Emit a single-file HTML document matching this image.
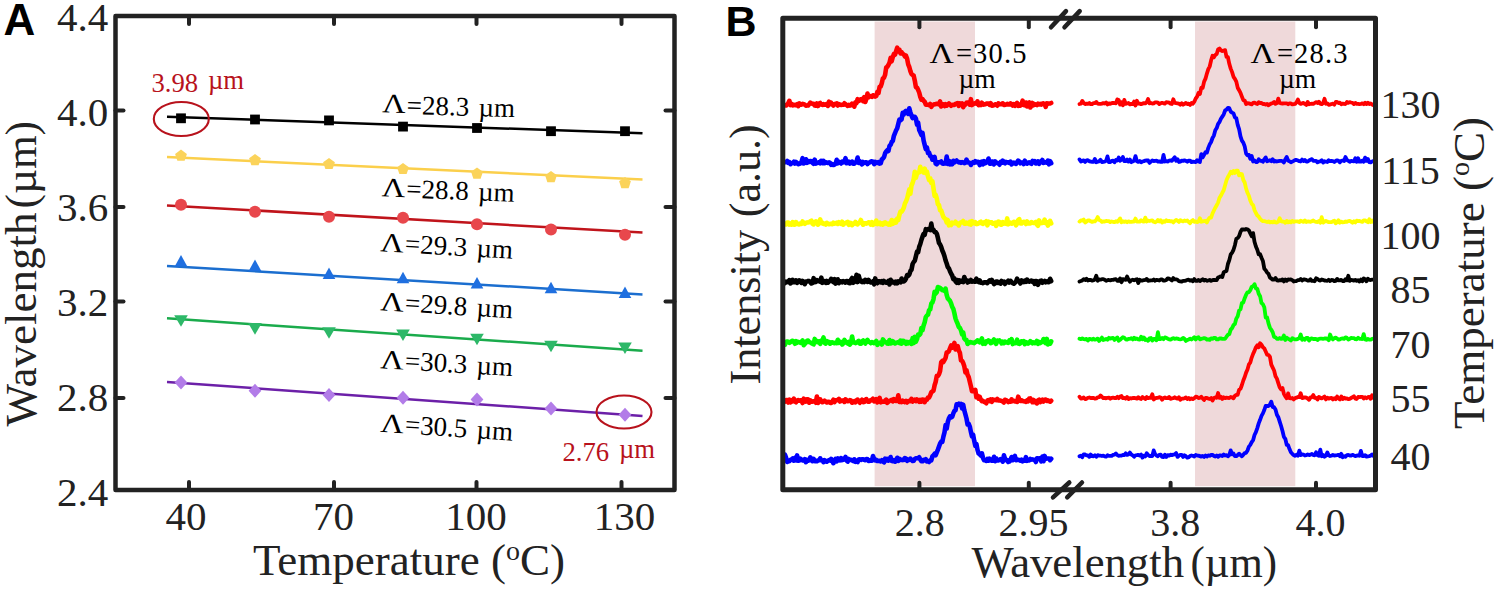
<!DOCTYPE html>
<html><head><meta charset="utf-8"><style>
html,body{margin:0;padding:0;background:#fff;}
svg{display:block;}
text{font-family:"Liberation Serif", serif;}
</style></head><body>
<svg width="1500" height="593" viewBox="0 0 1500 593">
<rect width="1500" height="593" fill="#fff"/>
<rect x="115.5" y="16" width="559.0" height="474" fill="none" stroke="#222" stroke-width="4.5" stroke-linejoin="round"/>
<line x1="189" y1="490" x2="189" y2="482" stroke="#222" stroke-width="4" stroke-linecap="round"/>
<line x1="189" y1="16" x2="189" y2="24" stroke="#222" stroke-width="4" stroke-linecap="round"/>
<line x1="334" y1="490" x2="334" y2="482" stroke="#222" stroke-width="4" stroke-linecap="round"/>
<line x1="334" y1="16" x2="334" y2="24" stroke="#222" stroke-width="4" stroke-linecap="round"/>
<line x1="476.5" y1="490" x2="476.5" y2="482" stroke="#222" stroke-width="4" stroke-linecap="round"/>
<line x1="476.5" y1="16" x2="476.5" y2="24" stroke="#222" stroke-width="4" stroke-linecap="round"/>
<line x1="621.5" y1="490" x2="621.5" y2="482" stroke="#222" stroke-width="4" stroke-linecap="round"/>
<line x1="621.5" y1="16" x2="621.5" y2="24" stroke="#222" stroke-width="4" stroke-linecap="round"/>
<line x1="115.5" y1="110.6" x2="123.5" y2="110.6" stroke="#222" stroke-width="4" stroke-linecap="round"/>
<line x1="674.5" y1="110.6" x2="665.5" y2="110.6" stroke="#222" stroke-width="4" stroke-linecap="round"/>
<line x1="115.5" y1="206.9" x2="123.5" y2="206.9" stroke="#222" stroke-width="4" stroke-linecap="round"/>
<line x1="674.5" y1="206.9" x2="665.5" y2="206.9" stroke="#222" stroke-width="4" stroke-linecap="round"/>
<line x1="115.5" y1="301.4" x2="123.5" y2="301.4" stroke="#222" stroke-width="4" stroke-linecap="round"/>
<line x1="674.5" y1="301.4" x2="665.5" y2="301.4" stroke="#222" stroke-width="4" stroke-linecap="round"/>
<line x1="115.5" y1="397.9" x2="123.5" y2="397.9" stroke="#222" stroke-width="4" stroke-linecap="round"/>
<line x1="674.5" y1="397.9" x2="665.5" y2="397.9" stroke="#222" stroke-width="4" stroke-linecap="round"/>
<text x="108.3" y="30.8" text-anchor="end" font-size="41" fill="#222">4.4</text>
<text x="108.3" y="125.8" text-anchor="end" font-size="41" fill="#222">4.0</text>
<text x="108.3" y="221" text-anchor="end" font-size="41" fill="#222">3.6</text>
<text x="108.3" y="315.9" text-anchor="end" font-size="41" fill="#222">3.2</text>
<text x="108.3" y="410.5" text-anchor="end" font-size="41" fill="#222">2.8</text>
<text x="108.3" y="505.9" text-anchor="end" font-size="41" fill="#222">2.4</text>
<text x="186" y="529.5" text-anchor="middle" font-size="41" fill="#222">40</text>
<text x="333.5" y="529.5" text-anchor="middle" font-size="41" fill="#222">70</text>
<text x="476" y="529.5" text-anchor="middle" font-size="41" fill="#222">100</text>
<text x="624.5" y="529.5" text-anchor="middle" font-size="41" fill="#222">130</text>
<text x="253" y="575" font-size="45" fill="#222">Temperature (<tspan baseline-shift="super" font-size="28">o</tspan>C)</text>
<text transform="translate(36,426.5) rotate(-90)" x="0" y="0" font-size="45" textLength="214" lengthAdjust="spacingAndGlyphs" fill="#222">Wavelength</text>
<text transform="translate(36,208.5) rotate(-90)" x="0" y="0" font-size="45" textLength="87.5" lengthAdjust="spacingAndGlyphs" fill="#222">(µm)</text>
<text x="3.5" y="35.4" style='font-family:"Liberation Sans", sans-serif;font-weight:bold' font-size="44" fill="#000">A</text>
<line x1="167" y1="116.7" x2="642.5" y2="133.3" stroke="#000000" stroke-width="2.5"/>
<rect x="176.1" y="113.39999999999999" width="9.8" height="9.8" fill="#000000"/>
<rect x="250.1" y="114.6" width="9.8" height="9.8" fill="#000000"/>
<rect x="324.1" y="115.5" width="9.8" height="9.8" fill="#000000"/>
<rect x="398.1" y="121.69999999999999" width="9.8" height="9.8" fill="#000000"/>
<rect x="472.1" y="123.1" width="9.8" height="9.8" fill="#000000"/>
<rect x="546.1" y="126.29999999999998" width="9.8" height="9.8" fill="#000000"/>
<rect x="620.1" y="126.29999999999998" width="9.8" height="9.8" fill="#000000"/>
<line x1="167" y1="157" x2="642.5" y2="179.6" stroke="#fbcf4b" stroke-width="2.5"/>
<polygon points="181.00,149.60 186.90,153.88 184.64,160.82 177.36,160.82 175.10,153.88" fill="#fbd35a"/>
<polygon points="255.00,154.00 260.90,158.28 258.64,165.22 251.36,165.22 249.10,158.28" fill="#fbd35a"/>
<polygon points="329.00,157.90 334.90,162.18 332.64,169.12 325.36,169.12 323.10,162.18" fill="#fbd35a"/>
<polygon points="403.00,162.90 408.90,167.18 406.64,174.12 399.36,174.12 397.10,167.18" fill="#fbd35a"/>
<polygon points="477.00,167.50 482.90,171.78 480.64,178.72 473.36,178.72 471.10,171.78" fill="#fbd35a"/>
<polygon points="551.00,171.00 556.90,175.28 554.64,182.22 547.36,182.22 545.10,175.28" fill="#fbd35a"/>
<polygon points="625.00,177.00 630.90,181.28 628.64,188.22 621.36,188.22 619.10,181.28" fill="#fbd35a"/>
<line x1="167" y1="205.4" x2="642.5" y2="232.6" stroke="#c0141b" stroke-width="2.5"/>
<circle cx="181" cy="204.7" r="6" fill="#e8474c"/>
<circle cx="255" cy="211.7" r="6" fill="#e8474c"/>
<circle cx="329" cy="216.7" r="6" fill="#e8474c"/>
<circle cx="403" cy="217.7" r="6" fill="#e8474c"/>
<circle cx="477" cy="224.3" r="6" fill="#e8474c"/>
<circle cx="551" cy="229.4" r="6" fill="#e8474c"/>
<circle cx="625" cy="234.7" r="6" fill="#e8474c"/>
<line x1="167" y1="266" x2="642.5" y2="294.4" stroke="#1b6ecf" stroke-width="2.5"/>
<polygon points="181,255 187.3,266.5 174.7,266.5" fill="#1f6fe0"/>
<polygon points="255,259.4 261.3,270.9 248.7,270.9" fill="#1f6fe0"/>
<polygon points="329,267.6 335.3,279.1 322.7,279.1" fill="#1f6fe0"/>
<polygon points="403,271.8 409.3,283.3 396.7,283.3" fill="#1f6fe0"/>
<polygon points="477,277 483.3,288.5 470.7,288.5" fill="#1f6fe0"/>
<polygon points="551,281.7 557.3,293.2 544.7,293.2" fill="#1f6fe0"/>
<polygon points="625,286.6 631.3,298.1 618.7,298.1" fill="#1f6fe0"/>
<line x1="167" y1="318.3" x2="642.5" y2="350.8" stroke="#1aab4c" stroke-width="2.5"/>
<polygon points="174.2,315.2 187.8,315.2 181,326.8" fill="#2db868"/>
<polygon points="248.2,323.09999999999997 261.8,323.09999999999997 255,334.7" fill="#2db868"/>
<polygon points="322.2,327.2 335.8,327.2 329,338.8" fill="#2db868"/>
<polygon points="396.2,329.4 409.8,329.4 403,341.0" fill="#2db868"/>
<polygon points="470.2,333.7 483.8,333.7 477,345.3" fill="#2db868"/>
<polygon points="544.2,340.7 557.8,340.7 551,352.3" fill="#2db868"/>
<polygon points="618.2,342.5 631.8,342.5 625,354.1" fill="#2db868"/>
<line x1="167" y1="381.9" x2="642.5" y2="416" stroke="#6c20a8" stroke-width="2.5"/>
<polygon points="181,375.6 187.4,382.6 181,389.6 174.6,382.6" fill="#b27ce8"/>
<polygon points="255,383.7 261.4,390.7 255,397.7 248.6,390.7" fill="#b27ce8"/>
<polygon points="329,388 335.4,395 329,402 322.6,395" fill="#b27ce8"/>
<polygon points="403,390.8 409.4,397.8 403,404.8 396.6,397.8" fill="#b27ce8"/>
<polygon points="477,392.5 483.4,399.5 477,406.5 470.6,399.5" fill="#b27ce8"/>
<polygon points="551,401.4 557.4,408.4 551,415.4 544.6,408.4" fill="#b27ce8"/>
<polygon points="625,407.7 631.4,414.7 625,421.7 618.6,414.7" fill="#b27ce8"/>
<g transform="rotate(1.6 382.0 112.3)"><text transform="translate(382.0,112.3) scale(1.2,1)" font-size="27" fill="#000">Λ</text><text x="406.5" y="113.5" font-size="27" fill="#000">=28.3<tspan dx="2.5"> µm</tspan></text></g>
<g transform="rotate(2.2 381.5 196.2)"><text transform="translate(381.5,196.2) scale(1.2,1)" font-size="27" fill="#000">Λ</text><text x="406.0" y="196.79999999999998" font-size="27" fill="#000">=28.8<tspan dx="2.5"> µm</tspan></text></g>
<g transform="rotate(3.3 380.0 251.2)"><text transform="translate(380.0,251.2) scale(1.2,1)" font-size="27" fill="#000">Λ</text><text x="404.5" y="251.2" font-size="27" fill="#000">=29.3<tspan dx="2.5"> µm</tspan></text></g>
<g transform="rotate(3.5 380.0 310.2)"><text transform="translate(380.0,310.2) scale(1.2,1)" font-size="27" fill="#000">Λ</text><text x="404.5" y="310.2" font-size="27" fill="#000">=29.8<tspan dx="2.5"> µm</tspan></text></g>
<g transform="rotate(3.4 380.0 368.2)"><text transform="translate(380.0,368.2) scale(1.2,1)" font-size="27" fill="#000">Λ</text><text x="404.5" y="368.2" font-size="27" fill="#000">=30.3<tspan dx="2.5"> µm</tspan></text></g>
<g transform="rotate(3.9 380.0 431.7)"><text transform="translate(380.0,431.7) scale(1.2,1)" font-size="27" fill="#000">Λ</text><text x="404.5" y="431.7" font-size="27" fill="#000">=30.5<tspan dx="2.5"> µm</tspan></text></g>
<ellipse cx="181.3" cy="119" rx="27.5" ry="17" fill="none" stroke="#b8121c" stroke-width="2.1"/>
<ellipse cx="624" cy="412" rx="27.5" ry="16.5" fill="none" stroke="#b8121c" stroke-width="2.1"/>
<text x="151.5" y="92" font-size="26.7" fill="#b8121c">3.98<tspan dx="3" dy="-3"> µm</tspan></text>
<text x="562.5" y="461" font-size="26.7" fill="#b8121c">2.76<tspan dx="3" dy="-3.5"> µm</tspan></text>
<rect x="874.6" y="21.5" width="100.4" height="464.7" fill="#efd9da"/>
<rect x="1195" y="21.5" width="100.3" height="464.7" fill="#efd9da"/>
<polyline points="785.0,105.2 786.1,105.5 787.2,104.4 788.3,103.3 789.4,100.8 790.5,105.1 791.6,104.0 792.7,105.3 793.8,104.8 794.9,105.1 796.0,105.2 797.1,104.3 798.2,106.2 799.3,103.3 800.4,104.6 801.5,104.6 802.6,103.8 803.7,104.2 804.8,104.6 805.9,105.7 807.0,105.5 808.1,105.5 809.2,104.1 810.3,102.6 811.4,103.4 812.5,103.8 813.6,103.7 814.7,105.5 815.8,105.7 816.9,103.5 818.0,106.0 819.1,103.6 820.2,103.0 821.3,104.6 822.4,104.9 823.5,104.0 824.6,104.8 825.7,104.7 826.8,103.9 827.9,105.9 829.0,101.7 830.1,104.1 831.2,102.8 832.3,104.2 833.4,105.5 834.5,104.1 835.6,103.8 836.7,103.4 837.8,105.5 838.9,104.0 840.0,104.5 841.1,105.0 842.2,104.8 843.3,104.8 844.4,103.3 845.5,104.2 846.6,105.0 847.7,105.9 848.8,104.8 849.9,105.6 851.0,105.3 852.1,103.6 853.2,104.8 854.3,106.7 855.4,102.4 856.5,103.1 857.6,99.2 858.7,101.1 859.8,100.0 860.9,99.3 862.0,99.1 863.1,101.2 864.2,97.1 865.3,102.0 866.4,98.8 867.5,93.5 868.6,97.4 869.7,96.0 870.8,96.2 871.9,96.9 873.0,95.3 874.1,95.6 875.2,96.6 876.3,96.0 877.4,91.8 878.5,93.0 879.6,86.8 880.7,86.5 881.8,83.2 882.9,78.3 884.0,77.8 885.1,74.8 886.2,67.5 887.3,66.8 888.4,65.0 889.5,62.7 890.6,57.9 891.7,61.3 892.8,57.0 893.9,53.9 895.0,54.7 896.1,51.2 897.2,47.7 898.3,51.3 899.4,49.7 900.5,53.3 901.6,52.2 902.7,53.8 903.8,54.4 904.9,56.5 906.0,55.7 907.1,58.6 908.2,64.4 909.3,67.0 910.4,71.1 911.5,74.0 912.6,74.9 913.7,75.7 914.8,80.7 915.9,87.1 917.0,87.6 918.1,89.8 919.2,92.5 920.3,96.9 921.4,99.7 922.5,99.1 923.6,100.7 924.7,101.7 925.8,104.6 926.9,104.5 928.0,104.7 929.1,105.2 930.2,103.9 931.3,106.8 932.4,105.4 933.5,104.6 934.6,104.2 935.7,104.1 936.8,103.7 937.9,103.8 939.0,104.3 940.1,101.4 941.2,106.4 942.3,104.4 943.4,104.4 944.5,106.0 945.6,104.2 946.7,105.6 947.8,104.4 948.9,103.5 950.0,104.5 951.1,105.8 952.2,104.9 953.3,104.7 954.4,104.9 955.5,103.8 956.6,104.0 957.7,103.1 958.8,105.8 959.9,103.4 961.0,104.5 962.1,103.4 963.2,107.2 964.3,105.2 965.4,104.5 966.5,102.8 967.6,102.5 968.7,102.4 969.8,104.7 970.9,99.2 972.0,105.1 973.1,104.1 974.2,103.6 975.3,103.2 976.4,103.7 977.5,101.3 978.6,105.2 979.7,104.4 980.8,105.0 981.9,102.7 983.0,104.6 984.1,104.5 985.2,104.3 986.3,103.6 987.4,103.6 988.5,103.5 989.6,104.9 990.7,103.1 991.8,105.7 992.9,105.5 994.0,105.1 995.1,104.3 996.2,104.6 997.3,105.7 998.4,103.4 999.5,104.3 1000.6,104.3 1001.7,104.0 1002.8,103.3 1003.9,104.9 1005.0,104.9 1006.1,104.6 1007.2,103.8 1008.3,104.4 1009.4,104.5 1010.5,103.4 1011.6,104.3 1012.7,105.6 1013.8,104.2 1014.9,105.8 1016.0,104.1 1017.1,102.9 1018.2,105.8 1019.3,104.4 1020.4,105.6 1021.5,104.6 1022.6,100.7 1023.7,105.1 1024.8,105.4 1025.9,102.5 1027.0,106.5 1028.1,103.1 1029.2,102.4 1030.3,107.5 1031.4,105.6 1032.5,103.0 1033.6,105.3 1034.7,104.1 1035.8,104.4 1036.9,105.1 1038.0,103.7 1039.1,104.5 1040.2,103.9 1041.3,104.6 1042.4,103.5 1043.5,103.4 1044.6,104.0 1045.7,106.8 1046.8,103.3 1047.9,103.7 1049.0,103.5 1050.1,103.5 1051.2,103.0" fill="none" stroke="#ff0000" stroke-width="4.6" stroke-linejoin="round" stroke-linecap="round"/>
<polyline points="1079.5,104.0 1080.9,103.7 1082.3,100.9 1083.7,103.0 1085.1,104.1 1086.5,103.6 1087.9,103.9 1089.3,103.0 1090.7,104.2 1092.1,104.0 1093.5,103.2 1094.9,103.2 1096.3,101.9 1097.7,103.6 1099.1,103.9 1100.5,103.9 1101.9,103.6 1103.3,103.1 1104.7,103.5 1106.1,102.4 1107.5,104.4 1108.9,103.4 1110.3,103.8 1111.7,103.2 1113.1,102.8 1114.5,103.2 1115.9,103.3 1117.3,99.4 1118.7,100.0 1120.1,104.6 1121.5,102.2 1122.9,105.3 1124.3,99.9 1125.7,103.8 1127.1,103.5 1128.5,103.0 1129.9,104.4 1131.3,103.8 1132.7,104.1 1134.1,101.6 1135.5,105.5 1136.9,100.8 1138.3,103.6 1139.7,103.6 1141.1,104.1 1142.5,103.6 1143.9,103.1 1145.3,103.4 1146.7,102.3 1148.1,99.0 1149.5,103.3 1150.9,103.0 1152.3,103.6 1153.7,103.3 1155.1,102.4 1156.5,102.4 1157.9,102.7 1159.3,104.0 1160.7,103.3 1162.1,102.8 1163.5,103.3 1164.9,103.5 1166.3,102.2 1167.7,102.3 1169.1,102.7 1170.5,103.6 1171.9,104.0 1173.3,99.3 1174.7,102.9 1176.1,103.1 1177.5,103.3 1178.9,103.6 1180.3,104.7 1181.7,103.2 1183.1,104.7 1184.5,103.8 1185.9,102.9 1187.3,104.1 1188.7,103.6 1190.1,105.0 1191.5,103.0 1192.9,103.7 1194.3,101.7 1195.7,98.5 1197.1,96.7 1198.5,93.0 1199.9,94.0 1201.3,87.7 1202.7,87.9 1204.1,81.6 1205.5,78.7 1206.9,73.6 1208.3,69.2 1209.7,66.5 1211.1,60.3 1212.5,55.8 1213.9,57.3 1215.3,55.1 1216.7,54.0 1218.1,49.4 1219.5,48.5 1220.9,50.3 1222.3,51.1 1223.7,50.5 1225.1,50.1 1226.5,56.8 1227.9,57.2 1229.3,63.8 1230.7,68.6 1232.1,72.1 1233.5,76.8 1234.9,78.8 1236.3,81.6 1237.7,87.7 1239.1,90.2 1240.5,92.9 1241.9,96.6 1243.3,100.1 1244.7,100.5 1246.1,104.1 1247.5,103.2 1248.9,103.4 1250.3,103.9 1251.7,104.3 1253.1,102.9 1254.5,102.6 1255.9,103.5 1257.3,104.0 1258.7,102.3 1260.1,103.0 1261.5,102.9 1262.9,104.0 1264.3,103.8 1265.7,104.7 1267.1,103.9 1268.5,105.3 1269.9,104.2 1271.3,103.5 1272.7,103.1 1274.1,101.9 1275.5,103.9 1276.9,103.1 1278.3,98.6 1279.7,103.0 1281.1,103.3 1282.5,103.5 1283.9,103.3 1285.3,103.3 1286.7,103.3 1288.1,104.3 1289.5,103.3 1290.9,103.5 1292.3,104.4 1293.7,104.1 1295.1,103.9 1296.5,102.3 1297.9,99.5 1299.3,102.9 1300.7,103.9 1302.1,103.3 1303.5,102.9 1304.9,104.0 1306.3,104.9 1307.7,101.9 1309.1,104.3 1310.5,103.8 1311.9,103.7 1313.3,103.9 1314.7,103.0 1316.1,102.1 1317.5,103.0 1318.9,101.7 1320.3,103.7 1321.7,104.2 1323.1,103.0 1324.5,98.8 1325.9,103.8 1327.3,103.3 1328.7,104.8 1330.1,104.6 1331.5,104.0 1332.9,103.7 1334.3,104.7 1335.7,102.0 1337.1,102.0 1338.5,103.1 1339.9,102.7 1341.3,104.2 1342.7,103.6 1344.1,103.9 1345.5,104.0 1346.9,102.0 1348.3,102.8 1349.7,102.1 1351.1,102.5 1352.5,102.8 1353.9,104.1 1355.3,102.9 1356.7,103.8 1358.1,103.8 1359.5,104.1 1360.9,103.9 1362.3,103.3 1363.7,104.3 1365.1,102.7 1366.5,104.0 1367.9,102.8 1369.3,104.0 1370.7,103.4 1372.1,104.5 1373.5,105.2" fill="none" stroke="#ff0000" stroke-width="3.8" stroke-linejoin="round" stroke-linecap="round"/>
<polyline points="785.0,162.0 786.1,162.2 787.2,161.0 788.3,162.9 789.4,162.2 790.5,164.2 791.6,163.3 792.7,162.9 793.8,161.8 794.9,163.5 796.0,162.0 797.1,163.0 798.2,164.2 799.3,163.9 800.4,163.4 801.5,161.9 802.6,158.1 803.7,163.5 804.8,162.5 805.9,159.3 807.0,162.8 808.1,160.8 809.2,161.9 810.3,161.0 811.4,161.3 812.5,162.8 813.6,163.8 814.7,159.6 815.8,163.6 816.9,162.8 818.0,162.9 819.1,162.1 820.2,163.3 821.3,160.8 822.4,163.1 823.5,160.9 824.6,163.1 825.7,162.2 826.8,162.4 827.9,163.0 829.0,162.4 830.1,162.9 831.2,164.8 832.3,164.0 833.4,165.0 834.5,164.6 835.6,163.9 836.7,159.8 837.8,163.4 838.9,161.6 840.0,162.7 841.1,163.5 842.2,161.6 843.3,162.4 844.4,161.6 845.5,158.2 846.6,163.2 847.7,162.9 848.8,161.8 849.9,163.5 851.0,162.2 852.1,161.6 853.2,163.6 854.3,163.6 855.4,162.5 856.5,161.8 857.6,157.5 858.7,162.9 859.8,161.1 860.9,163.2 862.0,164.4 863.1,162.0 864.2,162.9 865.3,162.4 866.4,162.4 867.5,164.1 868.6,162.8 869.7,162.3 870.8,161.5 871.9,161.3 873.0,161.7 874.1,164.1 875.2,161.9 876.3,163.0 877.4,162.7 878.5,162.1 879.6,163.6 880.7,163.3 881.8,159.5 882.9,158.5 884.0,157.1 885.1,153.3 886.2,151.5 887.3,150.2 888.4,151.0 889.5,146.1 890.6,144.8 891.7,142.0 892.8,140.9 893.9,135.8 895.0,133.2 896.1,130.3 897.2,128.4 898.3,123.9 899.4,119.5 900.5,120.3 901.6,119.3 902.7,112.8 903.8,114.5 904.9,111.8 906.0,110.9 907.1,111.1 908.2,113.8 909.3,108.3 910.4,112.4 911.5,115.6 912.6,118.1 913.7,116.8 914.8,116.8 915.9,118.5 917.0,124.7 918.1,122.5 919.2,130.0 920.3,132.3 921.4,135.0 922.5,132.8 923.6,140.5 924.7,144.9 925.8,149.1 926.9,147.5 928.0,153.0 929.1,152.6 930.2,156.2 931.3,156.4 932.4,159.8 933.5,159.8 934.6,157.0 935.7,163.6 936.8,164.3 937.9,162.7 939.0,162.2 940.1,162.2 941.2,161.5 942.3,163.5 943.4,163.7 944.5,163.4 945.6,163.4 946.7,156.5 947.8,164.0 948.9,161.0 950.0,164.3 951.1,162.1 952.2,164.3 953.3,160.8 954.4,162.3 955.5,161.3 956.6,160.5 957.7,161.7 958.8,162.5 959.9,162.1 961.0,162.9 962.1,162.1 963.2,162.4 964.3,163.2 965.4,162.8 966.5,159.6 967.6,162.5 968.7,162.5 969.8,162.9 970.9,164.9 972.0,163.3 973.1,162.2 974.2,162.8 975.3,161.2 976.4,162.3 977.5,161.7 978.6,162.0 979.7,165.1 980.8,162.2 981.9,161.7 983.0,164.3 984.1,161.1 985.2,163.3 986.3,162.3 987.4,161.7 988.5,158.5 989.6,163.6 990.7,163.7 991.8,161.5 992.9,161.6 994.0,164.3 995.1,161.3 996.2,162.8 997.3,162.9 998.4,163.3 999.5,164.7 1000.6,162.0 1001.7,162.7 1002.8,160.7 1003.9,162.6 1005.0,163.3 1006.1,161.9 1007.2,162.5 1008.3,162.3 1009.4,162.9 1010.5,161.6 1011.6,164.4 1012.7,163.3 1013.8,162.5 1014.9,163.4 1016.0,163.9 1017.1,162.3 1018.2,160.6 1019.3,161.5 1020.4,163.3 1021.5,162.7 1022.6,162.3 1023.7,164.0 1024.8,160.7 1025.9,162.5 1027.0,163.6 1028.1,162.8 1029.2,162.3 1030.3,163.2 1031.4,163.8 1032.5,161.0 1033.6,162.2 1034.7,161.3 1035.8,163.5 1036.9,163.1 1038.0,161.3 1039.1,163.8 1040.2,161.8 1041.3,162.2 1042.4,160.0 1043.5,162.9 1044.6,162.0 1045.7,162.5 1046.8,162.6 1047.9,160.6 1049.0,164.3 1050.1,161.2 1051.2,163.2" fill="none" stroke="#0000ff" stroke-width="4.6" stroke-linejoin="round" stroke-linecap="round"/>
<polyline points="1079.5,159.4 1080.9,161.5 1082.3,160.9 1083.7,160.4 1085.1,161.9 1086.5,160.4 1087.9,160.2 1089.3,161.3 1090.7,161.5 1092.1,161.8 1093.5,161.8 1094.9,158.9 1096.3,162.2 1097.7,161.7 1099.1,161.3 1100.5,159.8 1101.9,162.1 1103.3,161.8 1104.7,161.6 1106.1,160.9 1107.5,156.4 1108.9,162.2 1110.3,162.1 1111.7,160.9 1113.1,160.7 1114.5,162.3 1115.9,160.0 1117.3,160.5 1118.7,157.5 1120.1,160.8 1121.5,159.8 1122.9,157.0 1124.3,161.1 1125.7,161.2 1127.1,159.6 1128.5,161.6 1129.9,159.6 1131.3,162.2 1132.7,161.4 1134.1,160.8 1135.5,156.1 1136.9,161.3 1138.3,161.9 1139.7,161.0 1141.1,162.2 1142.5,161.5 1143.9,161.2 1145.3,160.6 1146.7,160.3 1148.1,160.5 1149.5,162.9 1150.9,161.6 1152.3,160.4 1153.7,161.0 1155.1,160.8 1156.5,160.7 1157.9,161.5 1159.3,161.3 1160.7,161.9 1162.1,161.9 1163.5,154.8 1164.9,161.5 1166.3,160.9 1167.7,161.5 1169.1,160.7 1170.5,160.4 1171.9,160.8 1173.3,158.9 1174.7,157.3 1176.1,160.7 1177.5,159.2 1178.9,162.0 1180.3,161.6 1181.7,160.7 1183.1,160.9 1184.5,160.4 1185.9,160.8 1187.3,161.7 1188.7,160.6 1190.1,160.7 1191.5,162.1 1192.9,161.6 1194.3,161.8 1195.7,162.0 1197.1,160.2 1198.5,161.5 1199.9,162.0 1201.3,154.2 1202.7,157.4 1204.1,154.8 1205.5,152.2 1206.9,152.6 1208.3,147.9 1209.7,144.4 1211.1,142.0 1212.5,138.0 1213.9,135.6 1215.3,130.3 1216.7,128.1 1218.1,123.8 1219.5,122.0 1220.9,118.7 1222.3,116.6 1223.7,114.4 1225.1,110.5 1226.5,109.7 1227.9,107.8 1229.3,108.2 1230.7,111.6 1232.1,112.6 1233.5,113.4 1234.9,117.3 1236.3,118.2 1237.7,124.8 1239.1,129.2 1240.5,136.4 1241.9,140.6 1243.3,142.6 1244.7,146.4 1246.1,153.5 1247.5,155.3 1248.9,154.9 1250.3,158.8 1251.7,156.0 1253.1,161.5 1254.5,160.5 1255.9,162.1 1257.3,162.0 1258.7,159.3 1260.1,160.8 1261.5,160.8 1262.9,161.8 1264.3,159.3 1265.7,157.4 1267.1,161.3 1268.5,160.7 1269.9,160.2 1271.3,161.2 1272.7,159.2 1274.1,161.5 1275.5,160.9 1276.9,161.5 1278.3,161.2 1279.7,160.9 1281.1,160.8 1282.5,161.3 1283.9,162.4 1285.3,159.4 1286.7,157.0 1288.1,160.5 1289.5,161.3 1290.9,162.3 1292.3,161.6 1293.7,160.9 1295.1,160.0 1296.5,160.0 1297.9,160.6 1299.3,161.2 1300.7,161.5 1302.1,159.5 1303.5,161.1 1304.9,159.9 1306.3,161.5 1307.7,161.5 1309.1,160.5 1310.5,159.7 1311.9,159.1 1313.3,160.8 1314.7,160.9 1316.1,160.8 1317.5,162.4 1318.9,161.6 1320.3,161.3 1321.7,160.3 1323.1,162.6 1324.5,161.2 1325.9,161.7 1327.3,162.0 1328.7,160.2 1330.1,161.2 1331.5,161.0 1332.9,161.1 1334.3,162.0 1335.7,160.9 1337.1,160.4 1338.5,160.9 1339.9,162.3 1341.3,160.8 1342.7,160.5 1344.1,161.0 1345.5,157.0 1346.9,160.0 1348.3,160.7 1349.7,161.8 1351.1,160.9 1352.5,161.1 1353.9,161.4 1355.3,158.2 1356.7,161.7 1358.1,158.2 1359.5,161.7 1360.9,161.7 1362.3,160.6 1363.7,161.7 1365.1,157.6 1366.5,160.9 1367.9,159.1 1369.3,162.1 1370.7,162.4 1372.1,161.5 1373.5,160.9" fill="none" stroke="#0000ff" stroke-width="3.8" stroke-linejoin="round" stroke-linecap="round"/>
<polyline points="785.0,224.2 786.1,224.5 787.2,222.5 788.3,222.6 789.4,224.6 790.5,223.7 791.6,224.6 792.7,222.1 793.8,224.7 794.9,224.7 796.0,222.1 797.1,223.8 798.2,224.2 799.3,224.5 800.4,223.3 801.5,223.8 802.6,221.5 803.7,223.2 804.8,223.9 805.9,222.9 807.0,222.5 808.1,222.4 809.2,222.2 810.3,221.3 811.4,220.7 812.5,223.8 813.6,224.4 814.7,222.1 815.8,221.3 816.9,221.9 818.0,224.6 819.1,223.1 820.2,219.4 821.3,223.1 822.4,222.7 823.5,223.9 824.6,223.6 825.7,224.5 826.8,222.8 827.9,223.6 829.0,224.3 830.1,223.8 831.2,224.0 832.3,224.2 833.4,222.6 834.5,223.7 835.6,223.3 836.7,222.6 837.8,223.9 838.9,222.2 840.0,223.4 841.1,223.8 842.2,221.7 843.3,224.6 844.4,223.2 845.5,223.3 846.6,222.3 847.7,221.9 848.8,224.8 849.9,222.9 851.0,223.0 852.1,225.2 853.2,224.0 854.3,223.6 855.4,221.9 856.5,223.8 857.6,224.3 858.7,223.0 859.8,222.5 860.9,220.0 862.0,223.0 863.1,224.7 864.2,223.7 865.3,223.2 866.4,223.6 867.5,223.2 868.6,222.3 869.7,222.6 870.8,224.5 871.9,222.1 873.0,224.8 874.1,224.1 875.2,222.9 876.3,220.6 877.4,224.1 878.5,223.2 879.6,222.6 880.7,224.4 881.8,223.4 882.9,224.6 884.0,222.9 885.1,222.4 886.2,223.6 887.3,223.5 888.4,224.5 889.5,223.4 890.6,224.6 891.7,220.1 892.8,223.9 893.9,222.4 895.0,220.8 896.1,222.5 897.2,218.6 898.3,219.9 899.4,215.0 900.5,211.5 901.6,211.8 902.7,210.1 903.8,207.8 904.9,203.5 906.0,201.4 907.1,198.7 908.2,194.1 909.3,189.4 910.4,193.8 911.5,185.5 912.6,183.0 913.7,179.1 914.8,171.7 915.9,177.8 917.0,173.5 918.1,172.7 919.2,172.4 920.3,166.8 921.4,171.4 922.5,170.5 923.6,172.5 924.7,168.6 925.8,173.1 926.9,171.6 928.0,176.6 929.1,180.1 930.2,178.3 931.3,183.0 932.4,181.2 933.5,188.4 934.6,195.9 935.7,194.8 936.8,198.4 937.9,204.3 939.0,205.0 940.1,210.2 941.2,210.4 942.3,213.8 943.4,216.9 944.5,218.3 945.6,219.2 946.7,222.5 947.8,220.0 948.9,225.3 950.0,224.5 951.1,225.0 952.2,222.7 953.3,223.1 954.4,223.3 955.5,221.8 956.6,223.6 957.7,224.1 958.8,225.4 959.9,223.1 961.0,222.2 962.1,222.3 963.2,221.0 964.3,223.6 965.4,223.6 966.5,222.7 967.6,223.5 968.7,224.0 969.8,222.0 970.9,224.6 972.0,221.2 973.1,222.6 974.2,223.3 975.3,222.3 976.4,224.1 977.5,223.9 978.6,223.4 979.7,222.3 980.8,221.7 981.9,223.4 983.0,223.9 984.1,222.4 985.2,222.5 986.3,221.2 987.4,225.3 988.5,221.7 989.6,222.9 990.7,222.3 991.8,222.4 992.9,223.8 994.0,223.6 995.1,222.8 996.2,225.9 997.3,222.9 998.4,221.5 999.5,222.1 1000.6,224.6 1001.7,224.6 1002.8,222.1 1003.9,223.6 1005.0,223.2 1006.1,223.9 1007.2,218.4 1008.3,224.3 1009.4,223.4 1010.5,222.6 1011.6,223.7 1012.7,223.0 1013.8,221.9 1014.9,222.0 1016.0,225.3 1017.1,223.5 1018.2,220.0 1019.3,219.2 1020.4,223.5 1021.5,223.5 1022.6,222.4 1023.7,221.8 1024.8,222.0 1025.9,224.0 1027.0,221.3 1028.1,223.5 1029.2,223.3 1030.3,223.4 1031.4,222.1 1032.5,222.7 1033.6,222.9 1034.7,222.7 1035.8,222.0 1036.9,224.5 1038.0,225.8 1039.1,220.4 1040.2,223.1 1041.3,223.1 1042.4,222.9 1043.5,222.6 1044.6,219.6 1045.7,223.2 1046.8,222.1 1047.9,225.6 1049.0,222.7 1050.1,220.8 1051.2,223.4" fill="none" stroke="#ffff00" stroke-width="4.6" stroke-linejoin="round" stroke-linecap="round"/>
<polyline points="1079.5,221.6 1080.9,220.4 1082.3,220.6 1083.7,219.6 1085.1,222.5 1086.5,221.7 1087.9,220.3 1089.3,220.5 1090.7,221.3 1092.1,221.9 1093.5,221.4 1094.9,221.3 1096.3,219.9 1097.7,217.1 1099.1,220.0 1100.5,220.5 1101.9,221.9 1103.3,221.3 1104.7,221.6 1106.1,221.0 1107.5,221.2 1108.9,221.1 1110.3,222.1 1111.7,221.5 1113.1,221.8 1114.5,222.2 1115.9,221.2 1117.3,221.9 1118.7,220.3 1120.1,218.4 1121.5,222.3 1122.9,221.3 1124.3,221.9 1125.7,221.3 1127.1,222.2 1128.5,221.3 1129.9,221.9 1131.3,221.9 1132.7,221.6 1134.1,221.5 1135.5,218.6 1136.9,221.7 1138.3,221.6 1139.7,221.6 1141.1,220.2 1142.5,221.3 1143.9,221.6 1145.3,217.6 1146.7,221.5 1148.1,220.6 1149.5,221.0 1150.9,220.7 1152.3,220.4 1153.7,221.8 1155.1,222.3 1156.5,221.6 1157.9,219.9 1159.3,221.4 1160.7,220.3 1162.1,222.6 1163.5,221.2 1164.9,221.8 1166.3,220.2 1167.7,221.2 1169.1,220.9 1170.5,221.3 1171.9,221.2 1173.3,222.4 1174.7,221.0 1176.1,219.9 1177.5,220.7 1178.9,221.9 1180.3,220.2 1181.7,221.0 1183.1,221.4 1184.5,220.5 1185.9,221.0 1187.3,220.5 1188.7,222.1 1190.1,223.2 1191.5,221.0 1192.9,220.1 1194.3,221.9 1195.7,221.4 1197.1,222.2 1198.5,221.6 1199.9,218.2 1201.3,221.7 1202.7,221.3 1204.1,221.1 1205.5,220.9 1206.9,222.4 1208.3,219.5 1209.7,217.6 1211.1,217.7 1212.5,213.5 1213.9,210.5 1215.3,207.7 1216.7,205.2 1218.1,202.6 1219.5,197.7 1220.9,195.6 1222.3,192.8 1223.7,190.3 1225.1,185.2 1226.5,180.3 1227.9,177.1 1229.3,174.8 1230.7,171.8 1232.1,173.3 1233.5,170.9 1234.9,173.0 1236.3,170.7 1237.7,170.6 1239.1,175.4 1240.5,174.0 1241.9,174.2 1243.3,180.0 1244.7,182.5 1246.1,188.6 1247.5,192.8 1248.9,195.8 1250.3,200.6 1251.7,203.8 1253.1,205.1 1254.5,210.1 1255.9,213.0 1257.3,215.5 1258.7,216.6 1260.1,218.7 1261.5,220.2 1262.9,221.2 1264.3,221.1 1265.7,221.5 1267.1,222.0 1268.5,221.4 1269.9,222.4 1271.3,221.9 1272.7,222.4 1274.1,221.4 1275.5,222.4 1276.9,222.5 1278.3,221.6 1279.7,218.3 1281.1,221.2 1282.5,221.6 1283.9,221.6 1285.3,222.8 1286.7,220.9 1288.1,222.3 1289.5,221.5 1290.9,222.3 1292.3,221.0 1293.7,221.8 1295.1,221.4 1296.5,221.4 1297.9,221.5 1299.3,222.1 1300.7,220.7 1302.1,221.4 1303.5,221.8 1304.9,220.4 1306.3,222.0 1307.7,221.5 1309.1,221.5 1310.5,221.9 1311.9,221.2 1313.3,220.5 1314.7,221.5 1316.1,221.9 1317.5,222.0 1318.9,220.9 1320.3,222.7 1321.7,217.2 1323.1,222.6 1324.5,221.7 1325.9,220.8 1327.3,221.6 1328.7,222.2 1330.1,222.1 1331.5,222.1 1332.9,221.3 1334.3,220.7 1335.7,223.3 1337.1,222.2 1338.5,220.2 1339.9,222.7 1341.3,221.6 1342.7,222.3 1344.1,222.2 1345.5,221.5 1346.9,221.8 1348.3,221.1 1349.7,220.9 1351.1,221.7 1352.5,222.7 1353.9,221.2 1355.3,222.4 1356.7,220.7 1358.1,221.1 1359.5,220.9 1360.9,221.5 1362.3,221.9 1363.7,220.4 1365.1,220.3 1366.5,221.4 1367.9,222.2 1369.3,219.3 1370.7,222.1 1372.1,220.5 1373.5,222.0" fill="none" stroke="#ffff00" stroke-width="3.8" stroke-linejoin="round" stroke-linecap="round"/>
<polyline points="785.0,283.0 786.1,281.6 787.2,281.9 788.3,282.2 789.4,280.1 790.5,283.4 791.6,282.5 792.7,279.9 793.8,282.2 794.9,282.2 796.0,280.3 797.1,282.8 798.2,282.1 799.3,280.4 800.4,280.8 801.5,282.9 802.6,281.0 803.7,281.9 804.8,284.1 805.9,281.6 807.0,281.6 808.1,280.9 809.2,281.1 810.3,282.2 811.4,283.5 812.5,282.9 813.6,278.2 814.7,282.1 815.8,282.0 816.9,280.1 818.0,280.9 819.1,281.2 820.2,281.8 821.3,277.6 822.4,282.8 823.5,280.8 824.6,281.9 825.7,282.9 826.8,280.9 827.9,282.7 829.0,281.4 830.1,280.9 831.2,278.8 832.3,281.1 833.4,282.2 834.5,279.1 835.6,283.6 836.7,279.9 837.8,279.4 838.9,283.2 840.0,281.3 841.1,281.3 842.2,282.4 843.3,281.1 844.4,281.4 845.5,282.6 846.6,281.0 847.7,281.3 848.8,283.0 849.9,283.2 851.0,279.7 852.1,278.0 853.2,282.8 854.3,281.9 855.4,280.8 856.5,274.8 857.6,282.1 858.7,275.7 859.8,279.7 860.9,281.4 862.0,282.1 863.1,281.0 864.2,282.0 865.3,279.9 866.4,281.1 867.5,281.9 868.6,280.0 869.7,281.6 870.8,282.5 871.9,282.4 873.0,281.3 874.1,284.3 875.2,278.4 876.3,282.1 877.4,283.2 878.5,281.4 879.6,281.3 880.7,282.3 881.8,281.3 882.9,282.9 884.0,280.9 885.1,282.2 886.2,282.7 887.3,282.4 888.4,281.0 889.5,284.5 890.6,279.8 891.7,281.5 892.8,282.4 893.9,281.9 895.0,283.3 896.1,281.6 897.2,283.4 898.3,281.4 899.4,281.7 900.5,282.3 901.6,278.5 902.7,281.5 903.8,281.4 904.9,280.5 906.0,278.6 907.1,275.1 908.2,275.9 909.3,274.5 910.4,271.1 911.5,269.8 912.6,264.0 913.7,262.0 914.8,260.8 915.9,256.3 917.0,251.7 918.1,252.2 919.2,246.9 920.3,244.0 921.4,240.0 922.5,236.7 923.6,233.9 924.7,234.8 925.8,229.2 926.9,230.0 928.0,229.0 929.1,229.3 930.2,230.0 931.3,223.6 932.4,230.1 933.5,229.8 934.6,232.1 935.7,232.1 936.8,233.7 937.9,237.9 939.0,242.9 940.1,244.5 941.2,246.9 942.3,250.5 943.4,253.0 944.5,256.2 945.6,260.5 946.7,263.5 947.8,267.2 948.9,268.3 950.0,271.2 951.1,273.6 952.2,275.5 953.3,279.1 954.4,278.4 955.5,281.3 956.6,282.7 957.7,280.2 958.8,282.9 959.9,280.5 961.0,281.1 962.1,281.8 963.2,282.1 964.3,277.1 965.4,280.3 966.5,280.2 967.6,282.5 968.7,280.8 969.8,281.5 970.9,280.0 972.0,281.7 973.1,281.2 974.2,281.6 975.3,281.6 976.4,278.6 977.5,281.0 978.6,282.0 979.7,280.4 980.8,282.6 981.9,282.6 983.0,283.2 984.1,282.4 985.2,282.3 986.3,282.2 987.4,283.1 988.5,281.6 989.6,280.5 990.7,281.6 991.8,279.9 992.9,281.7 994.0,284.1 995.1,283.5 996.2,281.5 997.3,281.6 998.4,282.9 999.5,282.2 1000.6,283.6 1001.7,281.0 1002.8,282.4 1003.9,281.7 1005.0,284.0 1006.1,282.0 1007.2,282.1 1008.3,280.6 1009.4,282.6 1010.5,280.8 1011.6,282.0 1012.7,283.2 1013.8,283.7 1014.9,282.7 1016.0,281.8 1017.1,278.6 1018.2,281.1 1019.3,280.9 1020.4,283.5 1021.5,280.4 1022.6,281.3 1023.7,282.0 1024.8,280.7 1025.9,281.7 1027.0,279.6 1028.1,281.3 1029.2,281.7 1030.3,281.1 1031.4,280.5 1032.5,281.8 1033.6,281.1 1034.7,283.8 1035.8,281.0 1036.9,281.3 1038.0,284.9 1039.1,282.4 1040.2,281.0 1041.3,280.6 1042.4,282.8 1043.5,281.9 1044.6,281.0 1045.7,282.3 1046.8,281.4 1047.9,282.1 1049.0,282.1 1050.1,278.8 1051.2,281.1" fill="none" stroke="#000000" stroke-width="4.6" stroke-linejoin="round" stroke-linecap="round"/>
<polyline points="1079.5,281.5 1080.9,281.0 1082.3,280.4 1083.7,279.1 1085.1,280.0 1086.5,278.8 1087.9,280.5 1089.3,280.0 1090.7,279.8 1092.1,280.7 1093.5,280.2 1094.9,279.5 1096.3,275.7 1097.7,280.7 1099.1,279.5 1100.5,279.7 1101.9,279.2 1103.3,279.1 1104.7,279.8 1106.1,280.8 1107.5,280.2 1108.9,280.0 1110.3,280.3 1111.7,279.9 1113.1,279.9 1114.5,279.4 1115.9,279.1 1117.3,280.8 1118.7,280.9 1120.1,278.4 1121.5,282.2 1122.9,279.1 1124.3,279.5 1125.7,279.8 1127.1,276.4 1128.5,279.7 1129.9,281.7 1131.3,280.2 1132.7,279.7 1134.1,280.3 1135.5,279.7 1136.9,279.3 1138.3,283.0 1139.7,279.7 1141.1,280.7 1142.5,280.5 1143.9,280.1 1145.3,279.8 1146.7,279.0 1148.1,280.8 1149.5,280.5 1150.9,280.3 1152.3,280.4 1153.7,279.5 1155.1,280.7 1156.5,279.8 1157.9,280.1 1159.3,280.5 1160.7,279.4 1162.1,279.4 1163.5,280.7 1164.9,280.6 1166.3,280.0 1167.7,278.3 1169.1,278.7 1170.5,279.4 1171.9,280.4 1173.3,278.1 1174.7,279.4 1176.1,279.3 1177.5,279.8 1178.9,281.1 1180.3,281.4 1181.7,281.7 1183.1,280.8 1184.5,280.9 1185.9,280.6 1187.3,279.9 1188.7,279.7 1190.1,280.7 1191.5,280.1 1192.9,281.3 1194.3,279.1 1195.7,280.8 1197.1,280.8 1198.5,280.0 1199.9,281.1 1201.3,280.2 1202.7,279.3 1204.1,280.5 1205.5,279.8 1206.9,280.8 1208.3,280.5 1209.7,279.9 1211.1,280.8 1212.5,280.2 1213.9,279.8 1215.3,280.2 1216.7,280.0 1218.1,277.5 1219.5,276.9 1220.9,276.4 1222.3,277.1 1223.7,272.2 1225.1,271.6 1226.5,271.0 1227.9,264.0 1229.3,260.1 1230.7,254.5 1232.1,252.7 1233.5,249.8 1234.9,245.2 1236.3,238.9 1237.7,238.0 1239.1,236.2 1240.5,231.8 1241.9,229.5 1243.3,229.4 1244.7,229.7 1246.1,229.0 1247.5,229.3 1248.9,230.4 1250.3,233.3 1251.7,236.3 1253.1,233.1 1254.5,241.8 1255.9,246.5 1257.3,249.8 1258.7,254.4 1260.1,254.2 1261.5,257.7 1262.9,260.9 1264.3,268.7 1265.7,270.2 1267.1,272.5 1268.5,273.9 1269.9,277.7 1271.3,278.5 1272.7,279.7 1274.1,279.5 1275.5,277.9 1276.9,280.3 1278.3,280.6 1279.7,280.2 1281.1,280.4 1282.5,279.4 1283.9,281.4 1285.3,279.6 1286.7,280.8 1288.1,279.5 1289.5,279.7 1290.9,279.4 1292.3,280.1 1293.7,281.5 1295.1,281.1 1296.5,281.0 1297.9,280.1 1299.3,280.0 1300.7,279.0 1302.1,280.6 1303.5,279.5 1304.9,279.5 1306.3,279.9 1307.7,280.6 1309.1,280.5 1310.5,279.3 1311.9,280.9 1313.3,280.8 1314.7,281.2 1316.1,278.3 1317.5,278.9 1318.9,280.2 1320.3,280.6 1321.7,279.5 1323.1,279.9 1324.5,280.5 1325.9,280.7 1327.3,280.8 1328.7,279.8 1330.1,281.1 1331.5,280.0 1332.9,280.1 1334.3,281.1 1335.7,280.8 1337.1,278.9 1338.5,280.4 1339.9,280.4 1341.3,279.9 1342.7,281.0 1344.1,281.2 1345.5,279.2 1346.9,280.3 1348.3,275.8 1349.7,280.9 1351.1,280.0 1352.5,280.1 1353.9,280.6 1355.3,279.9 1356.7,280.9 1358.1,280.2 1359.5,281.5 1360.9,279.6 1362.3,281.3 1363.7,278.4 1365.1,279.4 1366.5,281.3 1367.9,278.7 1369.3,279.9 1370.7,280.0 1372.1,279.7 1373.5,279.7" fill="none" stroke="#000000" stroke-width="3.8" stroke-linejoin="round" stroke-linecap="round"/>
<polyline points="785.0,344.6 786.1,341.8 787.2,341.6 788.3,341.8 789.4,342.8 790.5,342.1 791.6,341.1 792.7,340.7 793.8,341.7 794.9,343.8 796.0,341.1 797.1,342.7 798.2,341.9 799.3,342.2 800.4,342.8 801.5,341.7 802.6,340.4 803.7,345.2 804.8,344.0 805.9,342.8 807.0,340.8 808.1,340.6 809.2,342.1 810.3,342.4 811.4,343.2 812.5,343.7 813.6,344.4 814.7,338.9 815.8,342.1 816.9,340.9 818.0,342.2 819.1,341.5 820.2,343.9 821.3,340.6 822.4,340.6 823.5,337.4 824.6,342.8 825.7,343.6 826.8,341.1 827.9,341.7 829.0,341.9 830.1,343.7 831.2,342.5 832.3,342.3 833.4,342.9 834.5,343.2 835.6,342.6 836.7,343.2 837.8,339.8 838.9,342.8 840.0,341.6 841.1,342.2 842.2,344.5 843.3,343.4 844.4,339.9 845.5,341.6 846.6,342.6 847.7,343.5 848.8,342.0 849.9,344.7 851.0,342.8 852.1,336.5 853.2,342.2 854.3,342.5 855.4,343.1 856.5,342.6 857.6,341.8 858.7,340.9 859.8,343.8 860.9,343.7 862.0,341.3 863.1,340.5 864.2,341.9 865.3,343.5 866.4,341.1 867.5,339.9 868.6,341.8 869.7,342.1 870.8,343.2 871.9,342.0 873.0,342.6 874.1,343.2 875.2,342.4 876.3,341.0 877.4,344.9 878.5,342.9 879.6,343.3 880.7,342.4 881.8,344.5 882.9,339.4 884.0,340.8 885.1,342.3 886.2,342.4 887.3,343.5 888.4,343.7 889.5,340.0 890.6,343.4 891.7,343.3 892.8,341.2 893.9,342.6 895.0,343.5 896.1,342.8 897.2,342.5 898.3,342.1 899.4,343.1 900.5,340.6 901.6,343.6 902.7,340.7 903.8,340.9 904.9,342.6 906.0,343.8 907.1,341.9 908.2,343.2 909.3,342.1 910.4,341.6 911.5,343.9 912.6,338.1 913.7,343.1 914.8,336.9 915.9,341.7 917.0,339.1 918.1,334.6 919.2,335.2 920.3,334.0 921.4,328.0 922.5,330.2 923.6,325.5 924.7,322.3 925.8,317.0 926.9,315.5 928.0,314.7 929.1,310.0 930.2,309.5 931.3,303.6 932.4,302.4 933.5,299.2 934.6,291.9 935.7,293.5 936.8,292.3 937.9,287.1 939.0,288.0 940.1,287.9 941.2,288.9 942.3,290.1 943.4,290.0 944.5,290.8 945.6,288.6 946.7,295.1 947.8,298.4 948.9,299.6 950.0,300.8 951.1,303.4 952.2,306.9 953.3,308.8 954.4,313.2 955.5,318.5 956.6,321.3 957.7,323.9 958.8,327.1 959.9,327.9 961.0,330.4 962.1,334.3 963.2,332.5 964.3,338.5 965.4,339.7 966.5,340.0 967.6,344.0 968.7,342.8 969.8,342.0 970.9,342.3 972.0,342.6 973.1,342.8 974.2,343.1 975.3,342.1 976.4,341.6 977.5,340.4 978.6,340.9 979.7,342.2 980.8,341.2 981.9,338.3 983.0,343.8 984.1,342.2 985.2,343.7 986.3,341.4 987.4,341.6 988.5,340.4 989.6,341.0 990.7,343.2 991.8,342.7 992.9,340.9 994.0,339.5 995.1,342.2 996.2,343.9 997.3,340.5 998.4,341.2 999.5,340.5 1000.6,341.7 1001.7,343.4 1002.8,341.6 1003.9,343.1 1005.0,341.6 1006.1,342.2 1007.2,342.4 1008.3,342.9 1009.4,340.4 1010.5,341.6 1011.6,339.1 1012.7,344.1 1013.8,343.1 1014.9,343.3 1016.0,343.1 1017.1,339.7 1018.2,343.6 1019.3,343.9 1020.4,343.3 1021.5,341.3 1022.6,341.6 1023.7,341.2 1024.8,344.1 1025.9,342.1 1027.0,342.6 1028.1,343.6 1029.2,342.9 1030.3,341.2 1031.4,342.0 1032.5,343.3 1033.6,342.4 1034.7,343.2 1035.8,342.9 1036.9,340.9 1038.0,343.8 1039.1,341.9 1040.2,343.1 1041.3,342.0 1042.4,342.0 1043.5,339.0 1044.6,341.0 1045.7,343.2 1046.8,338.9 1047.9,344.4 1049.0,341.8 1050.1,343.7 1051.2,341.4" fill="none" stroke="#00ff00" stroke-width="4.6" stroke-linejoin="round" stroke-linecap="round"/>
<polyline points="1079.5,338.7 1080.9,339.2 1082.3,338.3 1083.7,339.1 1085.1,339.3 1086.5,338.9 1087.9,340.6 1089.3,338.8 1090.7,339.2 1092.1,339.6 1093.5,338.7 1094.9,339.7 1096.3,339.2 1097.7,338.6 1099.1,340.9 1100.5,339.4 1101.9,337.6 1103.3,340.0 1104.7,339.5 1106.1,338.9 1107.5,339.7 1108.9,337.8 1110.3,338.6 1111.7,338.2 1113.1,337.9 1114.5,339.9 1115.9,338.7 1117.3,337.4 1118.7,340.8 1120.1,339.8 1121.5,338.4 1122.9,337.2 1124.3,337.8 1125.7,339.3 1127.1,339.7 1128.5,338.8 1129.9,338.9 1131.3,338.2 1132.7,339.4 1134.1,337.7 1135.5,339.0 1136.9,338.5 1138.3,339.4 1139.7,339.7 1141.1,336.7 1142.5,339.3 1143.9,337.5 1145.3,340.0 1146.7,339.5 1148.1,340.8 1149.5,338.4 1150.9,338.0 1152.3,340.6 1153.7,338.8 1155.1,339.0 1156.5,340.3 1157.9,332.2 1159.3,339.0 1160.7,339.0 1162.1,337.9 1163.5,339.2 1164.9,337.4 1166.3,337.8 1167.7,338.7 1169.1,339.4 1170.5,339.7 1171.9,338.8 1173.3,338.1 1174.7,338.9 1176.1,338.5 1177.5,338.7 1178.9,339.1 1180.3,339.3 1181.7,339.2 1183.1,337.9 1184.5,338.9 1185.9,340.9 1187.3,340.0 1188.7,339.4 1190.1,338.6 1191.5,339.5 1192.9,338.5 1194.3,337.3 1195.7,339.4 1197.1,337.8 1198.5,337.2 1199.9,339.3 1201.3,338.9 1202.7,338.5 1204.1,338.1 1205.5,338.3 1206.9,339.6 1208.3,339.3 1209.7,339.9 1211.1,338.3 1212.5,338.8 1213.9,337.9 1215.3,337.9 1216.7,339.4 1218.1,339.4 1219.5,338.5 1220.9,338.4 1222.3,338.8 1223.7,338.9 1225.1,338.8 1226.5,336.7 1227.9,334.8 1229.3,334.1 1230.7,329.6 1232.1,328.1 1233.5,325.1 1234.9,324.0 1236.3,318.6 1237.7,316.2 1239.1,310.4 1240.5,309.3 1241.9,303.0 1243.3,302.4 1244.7,298.2 1246.1,294.7 1247.5,292.3 1248.9,292.1 1250.3,290.2 1251.7,286.8 1253.1,286.3 1254.5,284.2 1255.9,288.4 1257.3,288.8 1258.7,293.8 1260.1,296.2 1261.5,303.1 1262.9,304.2 1264.3,307.2 1265.7,317.6 1267.1,317.4 1268.5,323.4 1269.9,327.7 1271.3,329.8 1272.7,332.2 1274.1,337.0 1275.5,337.3 1276.9,338.8 1278.3,338.9 1279.7,338.0 1281.1,338.9 1282.5,338.6 1283.9,335.5 1285.3,340.0 1286.7,337.7 1288.1,338.8 1289.5,339.4 1290.9,340.4 1292.3,338.2 1293.7,339.0 1295.1,339.4 1296.5,339.3 1297.9,338.9 1299.3,338.1 1300.7,334.5 1302.1,339.8 1303.5,338.6 1304.9,339.7 1306.3,337.8 1307.7,338.0 1309.1,340.5 1310.5,338.9 1311.9,338.4 1313.3,339.0 1314.7,339.0 1316.1,339.0 1317.5,340.0 1318.9,338.8 1320.3,338.7 1321.7,338.6 1323.1,338.8 1324.5,338.5 1325.9,338.4 1327.3,338.8 1328.7,340.2 1330.1,334.5 1331.5,338.2 1332.9,339.4 1334.3,338.1 1335.7,337.7 1337.1,338.6 1338.5,339.7 1339.9,339.3 1341.3,338.6 1342.7,338.4 1344.1,338.8 1345.5,337.4 1346.9,337.9 1348.3,339.6 1349.7,338.8 1351.1,338.0 1352.5,338.2 1353.9,338.1 1355.3,339.2 1356.7,339.3 1358.1,337.8 1359.5,338.8 1360.9,338.9 1362.3,339.0 1363.7,334.1 1365.1,339.5 1366.5,339.8 1367.9,338.9 1369.3,339.7 1370.7,339.6 1372.1,338.8 1373.5,338.6" fill="none" stroke="#00ff00" stroke-width="3.8" stroke-linejoin="round" stroke-linecap="round"/>
<polyline points="785.0,401.5 786.1,400.1 787.2,400.1 788.3,402.5 789.4,399.7 790.5,402.3 791.6,400.4 792.7,401.3 793.8,398.6 794.9,401.4 796.0,402.3 797.1,400.7 798.2,400.0 799.3,400.7 800.4,400.4 801.5,400.4 802.6,403.0 803.7,398.7 804.8,399.7 805.9,401.6 807.0,399.4 808.1,399.3 809.2,402.7 810.3,400.4 811.4,401.6 812.5,401.6 813.6,401.2 814.7,401.2 815.8,402.7 816.9,396.5 818.0,402.9 819.1,401.6 820.2,399.4 821.3,401.2 822.4,402.2 823.5,401.5 824.6,400.7 825.7,401.6 826.8,402.5 827.9,401.8 829.0,401.9 830.1,402.7 831.2,403.0 832.3,401.4 833.4,399.7 834.5,402.1 835.6,400.2 836.7,400.2 837.8,400.0 838.9,398.9 840.0,401.5 841.1,400.8 842.2,400.5 843.3,400.6 844.4,401.9 845.5,399.4 846.6,400.3 847.7,401.3 848.8,401.1 849.9,400.1 851.0,400.4 852.1,402.7 853.2,402.4 854.3,401.2 855.4,402.3 856.5,400.2 857.6,399.6 858.7,401.2 859.8,402.8 860.9,401.1 862.0,399.8 863.1,402.1 864.2,402.0 865.3,399.7 866.4,399.1 867.5,401.3 868.6,401.8 869.7,401.3 870.8,400.0 871.9,400.1 873.0,398.7 874.1,401.3 875.2,400.6 876.3,399.1 877.4,402.4 878.5,400.6 879.6,397.9 880.7,402.3 881.8,401.9 882.9,401.5 884.0,401.7 885.1,400.7 886.2,399.6 887.3,402.9 888.4,401.9 889.5,400.8 890.6,400.4 891.7,399.9 892.8,401.4 893.9,399.1 895.0,400.0 896.1,400.9 897.2,400.0 898.3,395.3 899.4,402.0 900.5,400.9 901.6,402.0 902.7,400.6 903.8,401.3 904.9,402.1 906.0,401.0 907.1,402.5 908.2,401.0 909.3,401.1 910.4,401.1 911.5,398.8 912.6,401.5 913.7,400.6 914.8,399.7 915.9,401.1 917.0,399.4 918.1,400.5 919.2,401.7 920.3,400.0 921.4,401.6 922.5,399.5 923.6,399.7 924.7,402.2 925.8,399.6 926.9,399.8 928.0,397.5 929.1,397.6 930.2,395.3 931.3,392.2 932.4,391.5 933.5,390.6 934.6,385.2 935.7,381.7 936.8,375.9 937.9,375.9 939.0,374.2 940.1,371.0 941.2,362.3 942.3,361.0 943.4,362.0 944.5,359.9 945.6,357.9 946.7,352.5 947.8,352.1 948.9,351.2 950.0,348.3 951.1,345.5 952.2,347.7 953.3,346.5 954.4,342.9 955.5,349.4 956.6,346.5 957.7,346.1 958.8,350.6 959.9,352.8 961.0,360.4 962.1,360.8 963.2,363.1 964.3,366.3 965.4,372.3 966.5,370.2 967.6,374.9 968.7,377.1 969.8,381.8 970.9,386.2 972.0,391.2 973.1,391.1 974.2,390.3 975.3,389.9 976.4,397.3 977.5,395.7 978.6,398.7 979.7,396.8 980.8,399.6 981.9,401.2 983.0,400.9 984.1,401.9 985.2,402.3 986.3,403.2 987.4,400.6 988.5,400.0 989.6,401.1 990.7,399.4 991.8,401.9 992.9,399.5 994.0,400.2 995.1,399.8 996.2,400.2 997.3,398.9 998.4,400.4 999.5,400.5 1000.6,400.6 1001.7,400.9 1002.8,401.5 1003.9,402.5 1005.0,399.8 1006.1,400.1 1007.2,401.0 1008.3,402.0 1009.4,401.1 1010.5,401.6 1011.6,399.4 1012.7,401.1 1013.8,400.7 1014.9,401.4 1016.0,401.5 1017.1,401.9 1018.2,396.7 1019.3,399.3 1020.4,400.9 1021.5,400.3 1022.6,401.0 1023.7,401.2 1024.8,401.4 1025.9,401.8 1027.0,400.4 1028.1,401.3 1029.2,398.6 1030.3,398.4 1031.4,400.4 1032.5,402.2 1033.6,400.0 1034.7,402.2 1035.8,401.3 1036.9,403.4 1038.0,400.4 1039.1,399.7 1040.2,402.1 1041.3,400.7 1042.4,399.7 1043.5,401.5 1044.6,399.9 1045.7,399.5 1046.8,400.8 1047.9,400.3 1049.0,401.2 1050.1,401.7 1051.2,400.7" fill="none" stroke="#ff0000" stroke-width="4.6" stroke-linejoin="round" stroke-linecap="round"/>
<polyline points="1079.5,396.8 1080.9,398.5 1082.3,398.3 1083.7,397.5 1085.1,399.1 1086.5,398.8 1087.9,397.8 1089.3,397.5 1090.7,398.1 1092.1,398.0 1093.5,397.9 1094.9,398.7 1096.3,398.4 1097.7,397.4 1099.1,397.2 1100.5,395.5 1101.9,396.7 1103.3,398.2 1104.7,397.9 1106.1,398.3 1107.5,397.8 1108.9,397.6 1110.3,398.7 1111.7,397.8 1113.1,397.6 1114.5,398.0 1115.9,398.1 1117.3,396.8 1118.7,398.2 1120.1,396.5 1121.5,396.0 1122.9,398.2 1124.3,397.8 1125.7,398.7 1127.1,396.9 1128.5,399.1 1129.9,398.1 1131.3,398.5 1132.7,398.0 1134.1,398.0 1135.5,398.2 1136.9,398.6 1138.3,397.2 1139.7,398.5 1141.1,399.0 1142.5,397.0 1143.9,398.0 1145.3,399.0 1146.7,397.1 1148.1,398.2 1149.5,397.7 1150.9,397.8 1152.3,394.2 1153.7,399.5 1155.1,398.3 1156.5,397.9 1157.9,397.8 1159.3,397.2 1160.7,397.6 1162.1,399.7 1163.5,398.0 1164.9,397.5 1166.3,398.2 1167.7,398.2 1169.1,397.0 1170.5,398.8 1171.9,398.4 1173.3,398.2 1174.7,397.3 1176.1,398.2 1177.5,398.7 1178.9,397.2 1180.3,399.8 1181.7,398.7 1183.1,398.7 1184.5,398.2 1185.9,397.4 1187.3,399.1 1188.7,398.0 1190.1,399.2 1191.5,398.3 1192.9,399.1 1194.3,398.2 1195.7,396.7 1197.1,396.9 1198.5,398.0 1199.9,397.9 1201.3,396.7 1202.7,398.4 1204.1,400.0 1205.5,398.0 1206.9,397.9 1208.3,398.7 1209.7,399.0 1211.1,398.1 1212.5,400.5 1213.9,398.1 1215.3,397.5 1216.7,397.8 1218.1,393.0 1219.5,397.9 1220.9,396.7 1222.3,398.9 1223.7,397.3 1225.1,398.1 1226.5,397.7 1227.9,397.8 1229.3,398.0 1230.7,397.0 1232.1,397.4 1233.5,398.3 1234.9,395.8 1236.3,394.9 1237.7,394.8 1239.1,389.8 1240.5,388.8 1241.9,385.0 1243.3,380.5 1244.7,377.0 1246.1,372.6 1247.5,369.5 1248.9,364.4 1250.3,362.6 1251.7,357.6 1253.1,353.9 1254.5,350.9 1255.9,347.3 1257.3,345.3 1258.7,347.3 1260.1,343.2 1261.5,344.8 1262.9,347.2 1264.3,348.4 1265.7,351.5 1267.1,354.6 1268.5,355.0 1269.9,356.7 1271.3,364.7 1272.7,367.6 1274.1,370.5 1275.5,376.2 1276.9,378.6 1278.3,383.1 1279.7,387.4 1281.1,389.3 1282.5,388.1 1283.9,393.8 1285.3,396.4 1286.7,398.3 1288.1,393.4 1289.5,398.1 1290.9,398.3 1292.3,398.0 1293.7,399.4 1295.1,398.1 1296.5,397.7 1297.9,397.0 1299.3,397.2 1300.7,393.2 1302.1,398.0 1303.5,397.8 1304.9,397.3 1306.3,397.7 1307.7,398.5 1309.1,399.8 1310.5,397.4 1311.9,397.3 1313.3,395.1 1314.7,397.9 1316.1,398.0 1317.5,399.5 1318.9,396.9 1320.3,397.9 1321.7,398.4 1323.1,397.6 1324.5,396.6 1325.9,399.4 1327.3,397.7 1328.7,398.6 1330.1,398.1 1331.5,397.9 1332.9,399.4 1334.3,398.2 1335.7,399.2 1337.1,396.5 1338.5,398.5 1339.9,399.5 1341.3,396.5 1342.7,399.0 1344.1,397.7 1345.5,398.5 1346.9,398.3 1348.3,399.2 1349.7,398.8 1351.1,398.0 1352.5,397.2 1353.9,396.2 1355.3,398.6 1356.7,399.0 1358.1,397.0 1359.5,397.2 1360.9,396.8 1362.3,396.8 1363.7,398.4 1365.1,397.3 1366.5,398.2 1367.9,397.2 1369.3,396.8 1370.7,398.8 1372.1,395.3 1373.5,397.7" fill="none" stroke="#ff0000" stroke-width="3.8" stroke-linejoin="round" stroke-linecap="round"/>
<polyline points="785.0,454.7 786.1,457.8 787.2,462.0 788.3,460.8 789.4,461.1 790.5,459.9 791.6,459.4 792.7,458.4 793.8,460.7 794.9,458.0 796.0,460.4 797.1,455.4 798.2,460.7 799.3,460.5 800.4,458.7 801.5,459.6 802.6,460.4 803.7,460.6 804.8,459.1 805.9,462.2 807.0,460.0 808.1,460.7 809.2,460.4 810.3,457.4 811.4,458.9 812.5,461.2 813.6,458.8 814.7,461.1 815.8,461.0 816.9,461.2 818.0,460.5 819.1,460.3 820.2,458.3 821.3,460.2 822.4,460.5 823.5,462.1 824.6,460.2 825.7,461.0 826.8,461.7 827.9,460.8 829.0,460.0 830.1,460.6 831.2,458.9 832.3,460.7 833.4,463.2 834.5,460.9 835.6,458.8 836.7,461.4 837.8,458.4 838.9,459.8 840.0,460.3 841.1,458.1 842.2,460.1 843.3,459.8 844.4,458.7 845.5,457.0 846.6,460.6 847.7,461.6 848.8,459.0 849.9,459.9 851.0,459.9 852.1,460.4 853.2,461.1 854.3,459.3 855.4,461.8 856.5,461.5 857.6,462.1 858.7,459.5 859.8,459.2 860.9,459.9 862.0,459.3 863.1,459.2 864.2,459.9 865.3,460.2 866.4,459.0 867.5,459.3 868.6,461.0 869.7,460.6 870.8,460.7 871.9,460.6 873.0,456.0 874.1,458.8 875.2,460.4 876.3,459.9 877.4,461.0 878.5,460.7 879.6,460.8 880.7,461.4 881.8,460.3 882.9,461.4 884.0,462.4 885.1,458.6 886.2,460.6 887.3,459.0 888.4,460.6 889.5,460.2 890.6,457.0 891.7,461.0 892.8,461.1 893.9,460.2 895.0,461.7 896.1,461.0 897.2,457.8 898.3,460.8 899.4,458.8 900.5,460.0 901.6,459.8 902.7,460.1 903.8,459.9 904.9,458.0 906.0,458.5 907.1,460.9 908.2,459.9 909.3,459.9 910.4,458.6 911.5,460.0 912.6,460.9 913.7,460.7 914.8,458.9 915.9,458.3 917.0,458.2 918.1,458.3 919.2,457.3 920.3,459.5 921.4,461.3 922.5,461.3 923.6,459.9 924.7,460.5 925.8,459.3 926.9,461.5 928.0,461.2 929.1,462.0 930.2,460.3 931.3,460.5 932.4,456.4 933.5,455.2 934.6,453.8 935.7,455.2 936.8,452.4 937.9,449.6 939.0,446.6 940.1,443.5 941.2,441.7 942.3,442.0 943.4,436.6 944.5,432.4 945.6,425.0 946.7,428.6 947.8,422.0 948.9,418.3 950.0,416.3 951.1,417.4 952.2,416.8 953.3,413.4 954.4,410.8 955.5,410.4 956.6,404.3 957.7,404.6 958.8,403.7 959.9,404.9 961.0,403.9 962.1,408.4 963.2,404.7 964.3,410.4 965.4,414.4 966.5,418.5 967.6,424.5 968.7,423.8 969.8,426.5 970.9,431.9 972.0,436.4 973.1,434.6 974.2,440.8 975.3,445.8 976.4,443.9 977.5,449.9 978.6,453.5 979.7,454.3 980.8,455.6 981.9,453.4 983.0,457.9 984.1,460.2 985.2,460.3 986.3,460.8 987.4,458.9 988.5,460.7 989.6,458.7 990.7,460.0 991.8,460.8 992.9,460.8 994.0,456.8 995.1,461.2 996.2,458.5 997.3,460.2 998.4,460.5 999.5,460.0 1000.6,459.1 1001.7,459.4 1002.8,461.6 1003.9,455.3 1005.0,458.7 1006.1,460.3 1007.2,460.1 1008.3,462.0 1009.4,461.5 1010.5,460.1 1011.6,457.0 1012.7,460.2 1013.8,458.8 1014.9,456.0 1016.0,460.2 1017.1,459.9 1018.2,459.7 1019.3,460.1 1020.4,460.7 1021.5,459.6 1022.6,461.3 1023.7,460.1 1024.8,460.7 1025.9,457.2 1027.0,460.8 1028.1,459.8 1029.2,460.3 1030.3,458.9 1031.4,459.6 1032.5,459.4 1033.6,459.7 1034.7,460.0 1035.8,462.0 1036.9,458.3 1038.0,459.0 1039.1,458.2 1040.2,458.6 1041.3,461.4 1042.4,456.6 1043.5,461.2 1044.6,455.9 1045.7,458.8 1046.8,458.4 1047.9,458.6 1049.0,458.5 1050.1,460.2 1051.2,458.8" fill="none" stroke="#0000ff" stroke-width="4.6" stroke-linejoin="round" stroke-linecap="round"/>
<polyline points="1079.5,456.3 1080.9,455.6 1082.3,457.3 1083.7,454.3 1085.1,454.5 1086.5,455.4 1087.9,455.4 1089.3,456.8 1090.7,454.5 1092.1,456.2 1093.5,456.3 1094.9,455.3 1096.3,456.8 1097.7,455.2 1099.1,455.6 1100.5,455.7 1101.9,456.0 1103.3,455.6 1104.7,456.4 1106.1,456.7 1107.5,455.2 1108.9,455.9 1110.3,455.8 1111.7,455.8 1113.1,454.9 1114.5,454.6 1115.9,453.4 1117.3,455.1 1118.7,455.8 1120.1,455.7 1121.5,455.6 1122.9,454.9 1124.3,455.2 1125.7,453.3 1127.1,454.9 1128.5,454.5 1129.9,452.5 1131.3,454.5 1132.7,455.3 1134.1,456.8 1135.5,455.3 1136.9,455.2 1138.3,454.8 1139.7,455.6 1141.1,454.6 1142.5,457.6 1143.9,455.6 1145.3,456.4 1146.7,453.2 1148.1,454.9 1149.5,456.0 1150.9,455.9 1152.3,456.0 1153.7,450.4 1155.1,454.1 1156.5,455.5 1157.9,456.2 1159.3,454.9 1160.7,454.6 1162.1,456.9 1163.5,457.1 1164.9,454.7 1166.3,457.0 1167.7,455.1 1169.1,455.7 1170.5,454.7 1171.9,455.1 1173.3,454.7 1174.7,454.4 1176.1,453.1 1177.5,456.9 1178.9,455.8 1180.3,454.8 1181.7,454.8 1183.1,456.9 1184.5,455.3 1185.9,456.2 1187.3,457.7 1188.7,457.2 1190.1,456.1 1191.5,455.5 1192.9,455.8 1194.3,456.5 1195.7,455.0 1197.1,455.6 1198.5,455.6 1199.9,456.1 1201.3,456.6 1202.7,456.0 1204.1,457.0 1205.5,455.5 1206.9,456.6 1208.3,455.3 1209.7,455.8 1211.1,455.0 1212.5,454.9 1213.9,455.9 1215.3,456.5 1216.7,455.5 1218.1,456.7 1219.5,455.5 1220.9,455.4 1222.3,456.0 1223.7,454.4 1225.1,455.5 1226.5,455.2 1227.9,456.3 1229.3,455.0 1230.7,450.4 1232.1,454.4 1233.5,453.5 1234.9,456.2 1236.3,456.2 1237.7,455.0 1239.1,453.7 1240.5,455.1 1241.9,456.3 1243.3,454.7 1244.7,453.1 1246.1,452.8 1247.5,450.5 1248.9,446.6 1250.3,444.9 1251.7,442.1 1253.1,440.2 1254.5,435.0 1255.9,432.2 1257.3,428.1 1258.7,423.4 1260.1,419.8 1261.5,415.9 1262.9,413.4 1264.3,410.0 1265.7,405.8 1267.1,406.0 1268.5,406.0 1269.9,404.6 1271.3,401.7 1272.7,407.1 1274.1,407.2 1275.5,409.4 1276.9,414.7 1278.3,417.2 1279.7,421.6 1281.1,426.0 1282.5,431.0 1283.9,436.9 1285.3,438.8 1286.7,444.8 1288.1,445.2 1289.5,449.1 1290.9,452.3 1292.3,453.8 1293.7,455.1 1295.1,455.9 1296.5,454.7 1297.9,455.7 1299.3,450.7 1300.7,455.1 1302.1,454.3 1303.5,454.6 1304.9,455.5 1306.3,455.1 1307.7,454.5 1309.1,455.1 1310.5,454.6 1311.9,453.9 1313.3,455.2 1314.7,455.3 1316.1,452.3 1317.5,455.2 1318.9,455.8 1320.3,449.6 1321.7,456.2 1323.1,455.0 1324.5,456.8 1325.9,455.8 1327.3,452.4 1328.7,455.3 1330.1,456.0 1331.5,455.7 1332.9,454.9 1334.3,455.5 1335.7,455.3 1337.1,455.1 1338.5,454.8 1339.9,456.3 1341.3,453.8 1342.7,457.2 1344.1,456.2 1345.5,456.8 1346.9,455.1 1348.3,455.0 1349.7,455.5 1351.1,455.6 1352.5,454.8 1353.9,455.4 1355.3,456.1 1356.7,455.7 1358.1,455.3 1359.5,455.7 1360.9,450.9 1362.3,456.0 1363.7,456.1 1365.1,455.2 1366.5,456.6 1367.9,456.3 1369.3,456.1 1370.7,455.7 1372.1,454.4 1373.5,456.1" fill="none" stroke="#0000ff" stroke-width="3.8" stroke-linejoin="round" stroke-linecap="round"/>
<rect x="782.8" y="18.2" width="592.7" height="471.6" fill="none" stroke="#222" stroke-width="5" stroke-linejoin="round"/>
<line x1="919.4" y1="489.8" x2="919.4" y2="482.8" stroke="#222" stroke-width="4" stroke-linecap="round"/>
<line x1="919.4" y1="18.2" x2="919.4" y2="27.2" stroke="#222" stroke-width="4" stroke-linecap="round"/>
<line x1="1028.8" y1="489.8" x2="1028.8" y2="482.8" stroke="#222" stroke-width="4" stroke-linecap="round"/>
<line x1="1028.8" y1="18.2" x2="1028.8" y2="27.2" stroke="#222" stroke-width="4" stroke-linecap="round"/>
<line x1="1170.6" y1="489.8" x2="1170.6" y2="482.8" stroke="#222" stroke-width="4" stroke-linecap="round"/>
<line x1="1170.6" y1="18.2" x2="1170.6" y2="27.2" stroke="#222" stroke-width="4" stroke-linecap="round"/>
<line x1="1316" y1="489.8" x2="1316" y2="482.8" stroke="#222" stroke-width="4" stroke-linecap="round"/>
<line x1="1316" y1="18.2" x2="1316" y2="27.2" stroke="#222" stroke-width="4" stroke-linecap="round"/>
<line x1="1051" y1="27.3" x2="1066" y2="11.1" stroke="#222" stroke-width="4.5" stroke-linecap="round"/>
<line x1="1064.5" y1="27.3" x2="1079.7" y2="11.1" stroke="#222" stroke-width="4.5" stroke-linecap="round"/>
<line x1="1053" y1="497.4" x2="1069.3" y2="482.5" stroke="#222" stroke-width="4.5" stroke-linecap="round"/>
<line x1="1067.2" y1="497.4" x2="1082" y2="482.5" stroke="#222" stroke-width="4.5" stroke-linecap="round"/>
<text x="919.8" y="535.5" text-anchor="middle" font-size="40" fill="#222">2.8</text>
<text x="1033.5" y="535.5" text-anchor="middle" font-size="40" fill="#222">2.95</text>
<text x="1175.3" y="535.5" text-anchor="middle" font-size="40" fill="#222">3.8</text>
<text x="1320.5" y="535.5" text-anchor="middle" font-size="40" fill="#222">4.0</text>
<text x="1410.5" y="118" text-anchor="middle" font-size="40" fill="#222">130</text>
<text x="1410.5" y="184" text-anchor="middle" font-size="40" fill="#222">115</text>
<text x="1410.5" y="249" text-anchor="middle" font-size="40" fill="#222">100</text>
<text x="1410.5" y="303" text-anchor="middle" font-size="40" fill="#222">85</text>
<text x="1410.5" y="357.5" text-anchor="middle" font-size="40" fill="#222">70</text>
<text x="1410.5" y="411.5" text-anchor="middle" font-size="40" fill="#222">55</text>
<text x="1410.5" y="469.5" text-anchor="middle" font-size="40" fill="#222">40</text>
<text x="971.5" y="577" font-size="45" textLength="212.5" lengthAdjust="spacingAndGlyphs" fill="#222">Wavelength</text>
<text x="1190.5" y="577" font-size="45" textLength="86.5" lengthAdjust="spacingAndGlyphs" fill="#222">(µm)</text>
<text transform="translate(759.5,384.5) rotate(-90)" x="0" y="0" font-size="45" textLength="154.5" lengthAdjust="spacingAndGlyphs" fill="#222">Intensity</text>
<text transform="translate(759.5,217.3) rotate(-90)" x="0" y="0" font-size="45" textLength="93" lengthAdjust="spacingAndGlyphs" fill="#222">(a.u.)</text>
<text transform="translate(1483.5,429) rotate(-90)" font-size="45" fill="#222">Temperature (<tspan baseline-shift="super" font-size="28">o</tspan>C)</text>
<text x="725.5" y="35.5" style='font-family:"Liberation Sans", sans-serif;font-weight:bold' font-size="43" fill="#000">B</text>
<g><text transform="translate(929.5,62.8) scale(1.18,1)" font-size="28.5" fill="#000">Λ</text><text x="956.0" y="62.8" font-size="28.5" fill="#000">=<tspan dx="1" letter-spacing="1.2">30.5</tspan></text></g>
<text x="958.5" y="87.6" font-size="27.5" fill="#000">µm</text>
<g><text transform="translate(1250.5,62.8) scale(1.18,1)" font-size="28.5" fill="#000">Λ</text><text x="1277.0" y="62.8" font-size="28.5" fill="#000">=<tspan dx="1" letter-spacing="1.2">28.3</tspan></text></g>
<text x="1279" y="87.6" font-size="27.5" fill="#000">µm</text>
</svg>
</body></html>
